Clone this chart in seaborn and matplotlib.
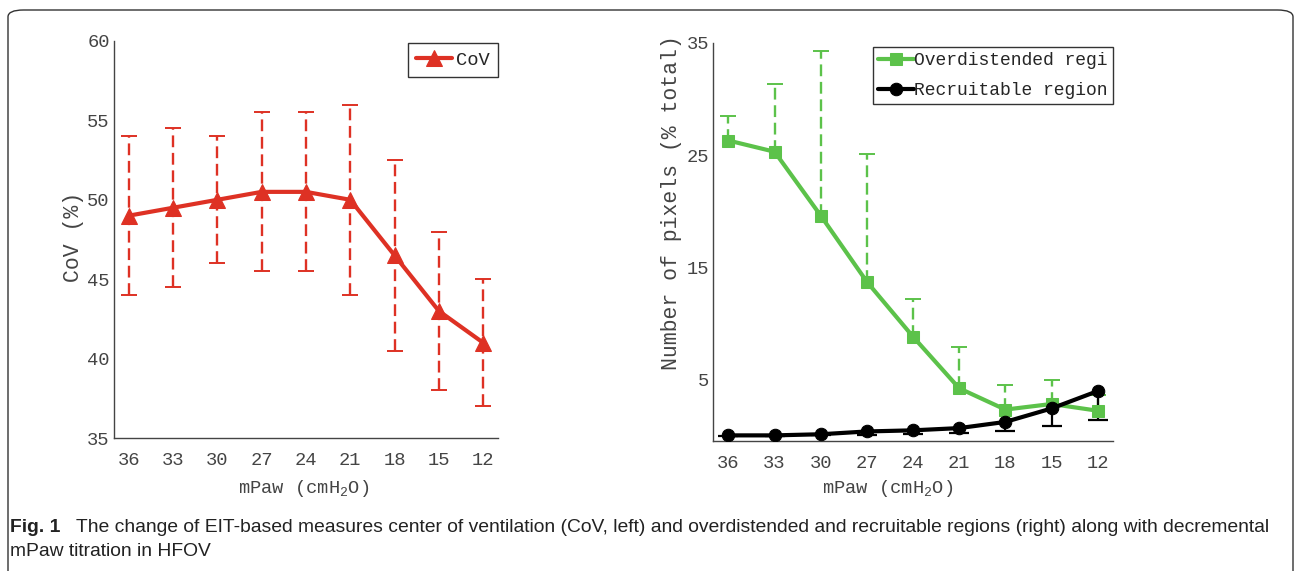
import numpy as np
import pandas as pd
import matplotlib
matplotlib.use('Agg')
import matplotlib.pyplot as plt
from matplotlib.patches import FancyBboxPatch
import seaborn as sns

# mPaw steps (cmH2O), decremental titration
mpaw = ['36', '33', '30', '27', '24', '21', '18', '15', '12']

# left panel: centre of ventilation (%), mean and SD
cov_mean = [49, 49.5, 50, 50.5, 50.5, 50, 46.5, 43, 41]
cov_sd = [5, 5, 4, 5, 5, 6, 6, 5, 4]

# right panel: number of pixels (% total)
over_mean = [26.3, 25.3, 19.6, 13.7, 8.8, 4.2, 2.3, 2.8, 2.2]
over_upper = [28.5, 31.3, 34.3, 25.1, 12.2, 7.9, 4.5, 4.9, 3.6]
recr_mean = [0.0, 0.0, 0.1, 0.35, 0.45, 0.65, 1.2, 2.4, 3.95]
recr_lower = [-0.05, -0.05, 0.0, 0.0, 0.1, 0.2, 0.35, 0.8, 1.4]

sns.set_theme(style='white')
plt.rcParams['font.family'] = ['Liberation Mono', 'DejaVu Sans Mono']
plt.rcParams['mathtext.fontset'] = 'custom'
plt.rcParams['mathtext.rm'] = 'Liberation Mono'

red = '#DE3124'
green = '#5CC24A'
grey = '#444444'
fs = 13.5
fs_ylab = 15.5

df_cov = pd.DataFrame({'pos': np.arange(len(mpaw)), 'cov': cov_mean})
df_pix = pd.DataFrame({'pos': np.arange(len(mpaw)), 'over': over_mean, 'recr': recr_mean})

fig = plt.figure(figsize=(12.95, 5.71), dpi=100)

# rounded frame around the figure panel
frame = FancyBboxPatch((8 / 1295, -0.2), 1293 / 1295 - 8 / 1295, 1.2 - 10 / 571,
                       boxstyle='round,pad=0,rounding_size=0.012',
                       transform=fig.transFigure, fill=False, ec='#333333', lw=1.0)
fig.patches.append(frame)

ax1 = fig.add_axes([0.0880, 0.2329, 0.2965, 0.6953])
ax2 = fig.add_axes([0.5506, 0.2277, 0.3089, 0.6970])

dash = (0, (5, 2.4))

def style_axis(ax):
    for s in ['top', 'right']:
        ax.spines[s].set_visible(False)
    for s in ['left', 'bottom']:
        ax.spines[s].set_color(grey)
        ax.spines[s].set_linewidth(1.0)
    ax.tick_params(direction='in', length=5, width=1, color=grey, labelcolor=grey,
                   labelsize=fs)
    ax.tick_params(axis='x', pad=10)
    ax.tick_params(axis='y', pad=3)
    ax.set_xticks(np.arange(len(mpaw)))
    ax.set_xticklabels(mpaw)
    ax.set_xlim(-1 / 3, len(mpaw) - 1 + 1 / 3)

# ---- left: CoV
eb = ax1.errorbar(df_cov['pos'], df_cov['cov'], yerr=cov_sd, fmt='none', ecolor=red,
                  elinewidth=1.7, capsize=5.8, capthick=1.4, zorder=2)
eb[2][0].set_linestyle(dash)
sns.lineplot(data=df_cov, x='pos', y='cov', ax=ax1, color=red, lw=3, marker='^',
             markersize=11, markeredgecolor=red, label='CoV', zorder=3)
style_axis(ax1)
ax1.set_ylim(35, 60)
ax1.set_yticks([35, 40, 45, 50, 55, 60])
ax1.set_ylabel('CoV (%)', fontsize=fs_ylab, color=grey)
ax1.set_xlabel('mPaw (cmH$_{2}$O)', fontsize=fs, color=grey)
ax1.yaxis.set_label_coords(-0.078, 0.506)
ax1.xaxis.set_label_coords(0.495, -0.10)
leg1 = ax1.legend(loc='upper right', fontsize=fs, frameon=True, fancybox=False,
                  edgecolor='black', handlelength=1.9, handletextpad=0.2,
                  borderpad=0.45, borderaxespad=0.0, bbox_to_anchor=(1.0, 0.995))
leg1.get_frame().set_linewidth(1.0)

# ---- right: overdistended / recruitable
over_err = [np.zeros(len(mpaw)), np.array(over_upper) - np.array(over_mean)]
eb2 = ax2.errorbar(df_pix['pos'], df_pix['over'], yerr=over_err, fmt='none', ecolor=green,
                   elinewidth=1.7, capsize=0, zorder=2)
eb2[2][0].set_linestyle(dash)
ax2.plot(df_pix['pos'], over_upper, ls='none', marker='_', markersize=11.5,
         mew=1.4, color=green, zorder=2)

recr_err = [np.array(recr_mean) - np.array(recr_lower), np.zeros(len(mpaw))]
ax2.errorbar(df_pix['pos'], df_pix['recr'], yerr=recr_err, fmt='none', ecolor='black',
             elinewidth=1.6, capsize=0, zorder=2)
ax2.plot(df_pix['pos'], recr_lower, ls='none', marker='_', markersize=14,
         mew=1.6, color='black', zorder=2)

sns.lineplot(data=df_pix, x='pos', y='over', ax=ax2, color=green, lw=3, marker='s',
             markersize=8, markeredgecolor=green, label='Overdistended regi', zorder=3)
sns.lineplot(data=df_pix, x='pos', y='recr', ax=ax2, color='black', lw=3, marker='o',
             markersize=9, markeredgecolor='black', label='Recruitable region', zorder=4)
style_axis(ax2)
ax2.set_ylim(-0.5, 35)
ax2.set_yticks([5, 15, 25, 35])
ax2.set_ylabel('Number of pixels (% total)', fontsize=fs_ylab, color=grey)
ax2.set_xlabel('mPaw (cmH$_{2}$O)', fontsize=fs, color=grey)
ax2.yaxis.set_label_coords(-0.0775, 0.60)
ax2.xaxis.set_label_coords(0.436, -0.093)
leg2 = ax2.legend(loc='upper right', fontsize=13, frameon=True, fancybox=False,
                  edgecolor='black', handlelength=2.0, handletextpad=0.0,
                  borderpad=0.3, borderaxespad=0.0, labelspacing=0.7,
                  bbox_to_anchor=(1.0, 0.99))
leg2.get_frame().set_linewidth(1.0)

# caption
cap_font = ['Liberation Sans', 'DejaVu Sans']
cap_fs = 13.9
fig.text(10 / 1295, 1 - 528 / 571, 'Fig. 1', fontsize=cap_fs, fontweight='bold',
         family=cap_font, va='center', ha='left', color='#222222')
fig.text(76 / 1295, 1 - 528 / 571,
         'The change of EIT-based measures center of ventilation (CoV, left) and '
         'overdistended and recruitable regions (right) along with decremental',
         fontsize=cap_fs, family=cap_font, va='center', ha='left', color='#222222')
fig.text(10 / 1295, 1 - 552 / 571, 'mPaw titration in HFOV', fontsize=cap_fs,
         family=cap_font, va='center', ha='left', color='#222222')

fig.savefig('out.png', dpi=100)
